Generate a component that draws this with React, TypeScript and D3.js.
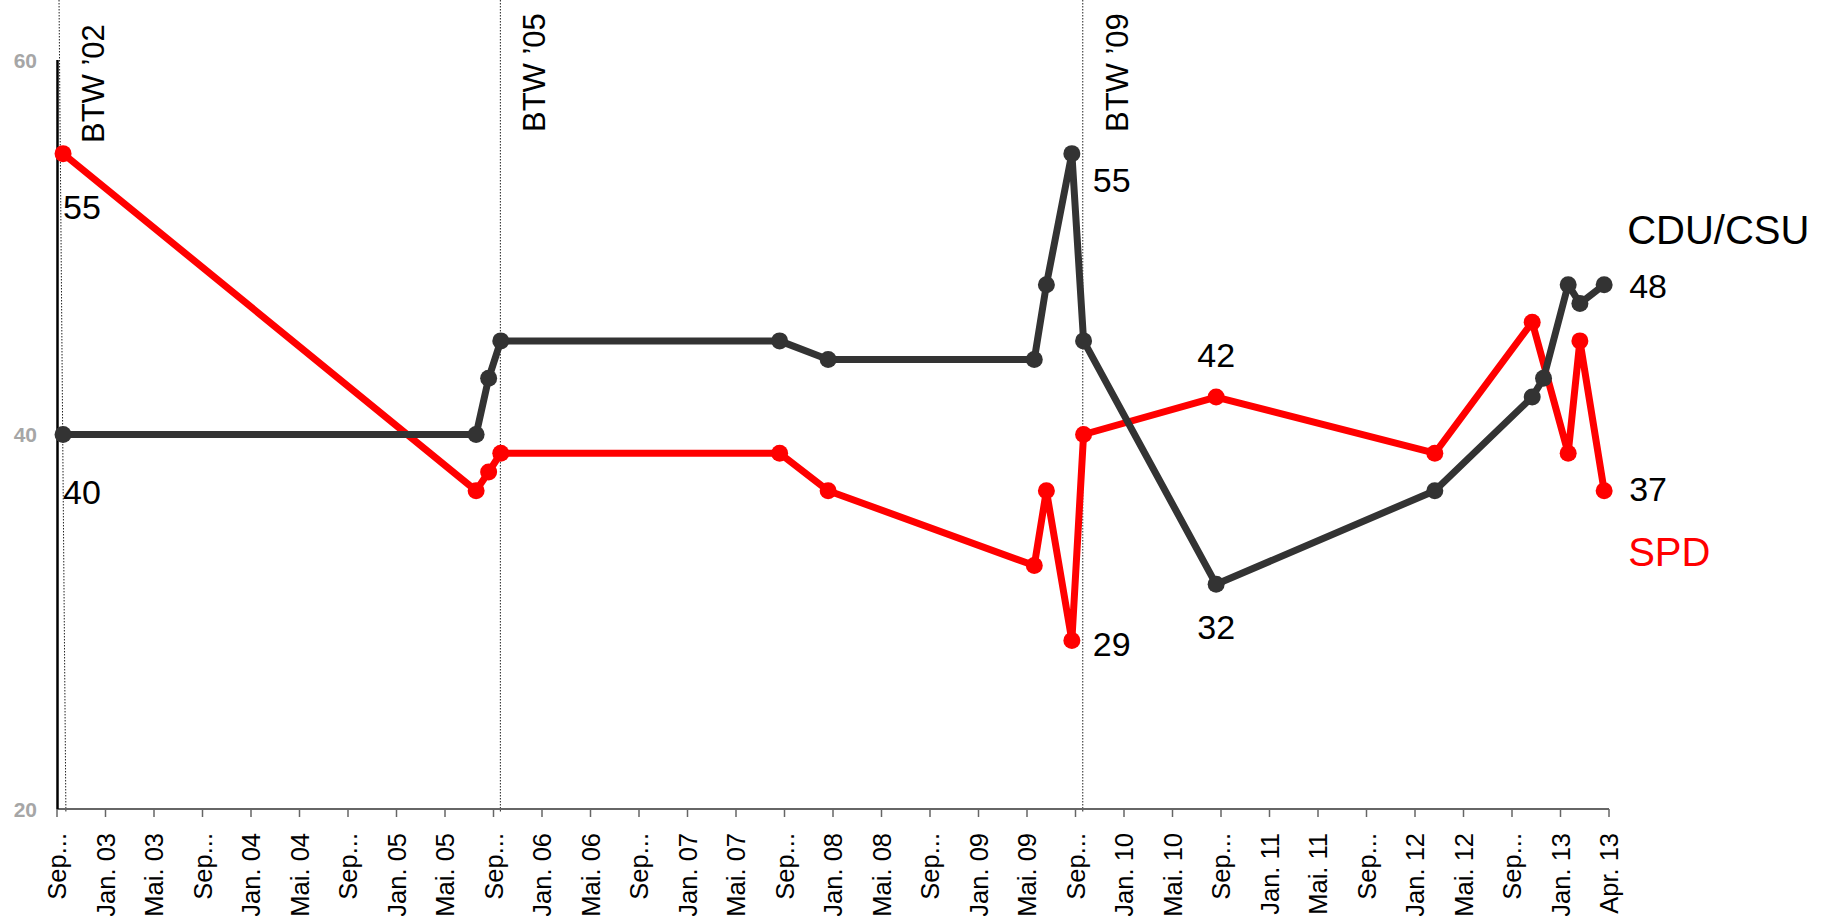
import React from "react";
import * as d3 from "d3";

// ---- Data ----
const xTickLabels = [
  "Sep...", "Jan. 03", "Mai. 03", "Sep...", "Jan. 04", "Mai. 04", "Sep...", "Jan. 05", "Mai. 05",
  "Sep...", "Jan. 06", "Mai. 06", "Sep...", "Jan. 07", "Mai. 07", "Sep...", "Jan. 08", "Mai. 08",
  "Sep...", "Jan. 09", "Mai. 09", "Sep...", "Jan. 10", "Mai. 10", "Sep...", "Jan. 11", "Mai. 11",
  "Sep...", "Jan. 12", "Mai. 12", "Sep...", "Jan. 13", "Apr. 13",
];
const yTicks = [20, 40, 60];

const cduDates = [
  "2002-09-16", "2005-07-18", "2005-08-19", "2005-09-19", "2007-08-19", "2007-12-19",
  "2009-05-19", "2009-06-19", "2009-08-22", "2009-09-21", "2010-08-19", "2012-02-20",
  "2012-10-21", "2012-11-19", "2013-01-20", "2013-02-19", "2013-04-19",
];
const cduValues = [40, 40, 43, 45, 45, 44, 44, 48, 55, 45, 32, 37, 42, 43, 48, 47, 48];

const spdDates = [
  "2002-09-16", "2005-07-18", "2005-08-19", "2005-09-19", "2007-08-19", "2007-12-19",
  "2009-05-19", "2009-06-19", "2009-08-22", "2009-09-21", "2010-08-19", "2012-02-20",
  "2012-10-21", "2013-01-20", "2013-02-19", "2013-04-19",
];
const spdValues = [55, 37, 38, 39, 39, 37, 33, 37, 29, 40, 42, 39, 46, 39, 45, 37];

const electionLabels = ["BTW \u201902", "BTW \u201905", "BTW \u201909"];
const electionTopDates = ["2002-09-06", "2005-09-18", "2009-09-19"];
const electionBottomDates = ["2002-09-23", "2005-09-18", "2009-09-19"];

// value labels: point index per series
const cduLabelIdx = [0, 8, 10, 16];
const spdLabelIdx = [0, 8, 10, 15];

// ---- Helpers ----
function monthIndex(s: string): number {
  const [y, m, d] = s.split("-").map(Number);
  return (y - 2002) * 12 + (m - 9) + (d - 1) / 30;
}

const FONT = "'Liberation Sans', Arial, Helvetica, sans-serif";
const W = 1823;
const H = 916;

export default function App() {
  const x = d3.scaleLinear().domain([0, 128]).range([57, 1609]);
  const y = d3.scaleLinear().domain([20, 60]).range([809, 60]);

  const cdu = cduDates.map((d, i) => ({ m: monthIndex(d), v: cduValues[i] }));
  const spd = spdDates.map((d, i) => ({ m: monthIndex(d), v: spdValues[i] }));

  const line = d3
    .line<{ m: number; v: number }>()
    .x((d) => x(d.m))
    .y((d) => y(d.v));

  const tickIdx = d3.range(xTickLabels.length).map((i) => i * 4);

  const labelOffsets: Record<string, { dx: number; dy: number; anchor: string }[]> = {
    cdu: [
      { dx: 0, dy: 69, anchor: "start" },
      { dx: 21, dy: 38, anchor: "start" },
      { dx: 0, dy: 55, anchor: "middle" },
      { dx: 25, dy: 13, anchor: "start" },
    ],
    spd: [
      { dx: 0, dy: 65, anchor: "start" },
      { dx: 21, dy: 16, anchor: "start" },
      { dx: 0, dy: -30, anchor: "middle" },
      { dx: 25, dy: 10, anchor: "start" },
    ],
  };

  const cduColor = "#333333";
  const spdColor = "#ff0000";

  return (
    <svg
      width={W}
      height={H}
      style={{ position: "absolute", left: 0, top: 0, background: "#fff" }}
      fontFamily={FONT}
    >
      <rect x={0} y={0} width={W} height={H} fill="#fff" />

      {/* election lines */}
      {electionLabels.map((lab, i) => {
        const xt = x(monthIndex(electionTopDates[i]));
        const xb = x(monthIndex(electionBottomDates[i]));
        const ty = i === 0 ? 143 : 132;
        return (
          <g key={lab}>
            <line x1={xt} y1={0} x2={xb} y2={812} stroke="#222" strokeWidth={1} strokeDasharray="1.5,1.5" />
            <text
              transform={`translate(${xt + 45},${ty}) rotate(-90)`}
              fontSize={31}
              fill="#000"
              textAnchor="start"
            >
              {lab}
            </text>
          </g>
        );
      })}

      {/* x axis */}
      <line x1={x(0)} x2={x(128)} y1={y(20)} y2={y(20)} stroke="#666" strokeWidth={2} />
      {tickIdx.map((t, i) => (
        <g key={i}>
          <line x1={x(t)} x2={x(t)} y1={y(20)} y2={y(20) + 8} stroke="#666" strokeWidth={1.5} />
          <text
            transform={`translate(${x(t)},${y(20) + 24}) rotate(-90)`}
            textAnchor="end"
            dy="0.36em"
            fontSize={25.5}
            fill="#000"
          >
            {xTickLabels[i]}
          </text>
        </g>
      ))}

      {/* y axis */}
      <line x1={x(0) + 0.5} x2={x(0) + 0.5} y1={y(60)} y2={y(20)} stroke="#000" strokeWidth={2.5} />
      {yTicks.map((t) => (
        <text
          key={t}
          x={37}
          y={y(t)}
          dy="0.36em"
          textAnchor="end"
          fontSize={21}
          fontWeight="bold"
          fill="#a6a6a6"
        >
          {t}
        </text>
      ))}

      {/* SPD series */}
      <path d={line(spd) || ""} fill="none" stroke={spdColor} strokeWidth={7} strokeLinejoin="round" />
      {spd.map((d, i) => (
        <circle key={i} cx={x(d.m)} cy={y(d.v)} r={8.5} fill={spdColor} />
      ))}

      {/* CDU series */}
      <path d={line(cdu) || ""} fill="none" stroke={cduColor} strokeWidth={7} strokeLinejoin="round" />
      {cdu.map((d, i) => (
        <circle key={i} cx={x(d.m)} cy={y(d.v)} r={8.5} fill={cduColor} />
      ))}

      {/* value labels */}
      {cduLabelIdx.map((pi, k) => {
        const d = cdu[pi];
        const o = labelOffsets.cdu[k];
        return (
          <text key={"c" + k} x={x(d.m) + o.dx} y={y(d.v) + o.dy} textAnchor={o.anchor} fontSize={34} fill="#000">
            {d.v}
          </text>
        );
      })}
      {spdLabelIdx.map((pi, k) => {
        const d = spd[pi];
        const o = labelOffsets.spd[k];
        return (
          <text key={"s" + k} x={x(d.m) + o.dx} y={y(d.v) + o.dy} textAnchor={o.anchor} fontSize={34} fill="#000">
            {d.v}
          </text>
        );
      })}

      {/* series names */}
      <text x={x(cdu[cdu.length - 1].m) + 23} y={y(cdu[cdu.length - 1].v) - 41} fontSize={40} fill="#000">
        CDU/CSU
      </text>
      <text x={x(spd[spd.length - 1].m) + 24} y={y(spd[spd.length - 1].v) + 75} fontSize={40} fill={spdColor}>
        SPD
      </text>
    </svg>
  );
}
